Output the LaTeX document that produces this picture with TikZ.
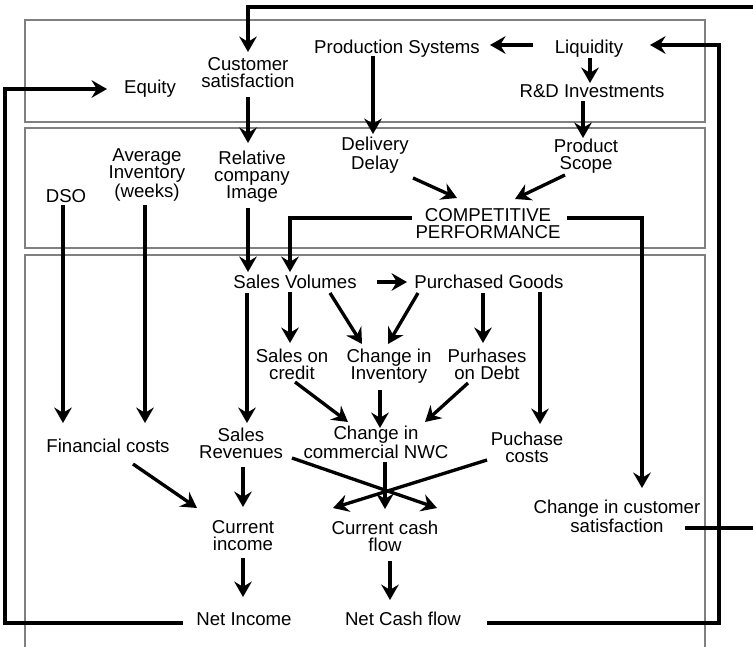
\documentclass[tikz,border=0pt]{standalone}
\usepackage{fontspec}
\setmainfont{Liberation Sans}
\usetikzlibrary{arrows.meta}
\begin{document}
\begin{tikzpicture}[x=0.02cm,y=-0.02cm,
  lbl/.style={inner sep=0pt,outer sep=0pt,align=center,font=\fontsize{10.6}{9.6}\selectfont},
  link/.style={line width=1.9pt,-{Stealth[length=8.8pt,width=10pt,inset=3pt]}},
  panel/.style={draw=black!50,line width=0.7pt}]
\useasboundingbox (0,0) rectangle (753,646);
\clip (0,0) rectangle (753,646);

% three panels
\draw[panel] (25,20) rectangle (705,122);
\draw[panel] (25,128) rectangle (705,248);
\draw[panel] (25,660) -- (25,255) -- (705,255) -- (705,660);

% top panel
\node[lbl,anchor=base] (eq)  at (150,93) {Equity};
\node[lbl] (cs) at (248,73) {Customer\\satisfaction};
\node[lbl,anchor=base] (ps)  at (397,53) {Production Systems};
\node[lbl,anchor=base] (liq) at (589,53) {Liquidity};
\node[lbl,anchor=base] (rd)  at (592,97) {R\&D Investments};

% middle panel
\node[lbl,anchor=base] (dso) at (66,202) {DSO};
\node[lbl] (ai)  at (147,175) {Average\\Inventory\\(weeks)};
\node[lbl] (rci) at (252,177) {Relative\\company\\Image};
\node[lbl] (dd)  at (375,155) {Delivery\\Delay};
\node[lbl] (psc) at (586,156) {Product\\Scope};
\node[lbl] (cp)  at (488,224) {COMPETITIVE\\PERFORMANCE};

% bottom panel
\node[lbl,anchor=base] (sv) at (295,288) {Sales Volumes};
\node[lbl,anchor=base] (pg) at (489,288) {Purchased Goods};
\node[lbl] (soc) at (292,364) {Sales on\\credit};
\node[lbl] (ci)  at (389,366) {Change in\\Inventory};
\node[lbl] (pod) at (487,364) {Purhases\\on Debt};
\node[lbl,anchor=base] (fc) at (108,452) {Financial costs};
\node[lbl] (sr)  at (241,443) {Sales\\Revenues};
\node[lbl] (nwc) at (376,442) {Change in\\commercial NWC};
\node[lbl] (pc)  at (527,447) {Puchase\\costs};
\node[lbl] (cin) at (243,536) {Current\\income};
\node[lbl] (ccf) at (385,536) {Current cash\\flow};
\node[lbl] (ccs) at (617,516) {Change in customer\\satisfaction};
\node[lbl,anchor=base] (ni)  at (244,625) {Net Income};
\node[lbl,anchor=base] (ncf) at (403,625) {Net Cash flow};

% links in the top and middle panels
\draw[link] ([shift={(0,24)}]cs.center) -- ([shift={(-4,-34)}]rci.center);
\draw[link] ([shift={(-24,3)}]ps.base) -- ([shift={(-2,-21)}]dd.center);
\draw[link] ([shift={(-56,-8)}]liq.base) -- ([shift={(93,-8)}]ps.base);
\draw[link] ([shift={(1,5)}]liq.base) -- ([shift={(-2,-14)}]rd.base);
\draw[link] ([shift={(-9,4)}]rd.base) -- ([shift={(-3,-18)}]psc.center);
\draw[link] ([shift={(38,23)}]dd.center) -- ([shift={(-31,-26)}]cp.center);
\draw[link] ([shift={(-21,19)}]psc.center) -- ([shift={(27,-25)}]cp.center);
\draw[link] ([shift={(-76,-6)}]cp.center) -| ([shift={(-5,-16)}]sv.base);
\draw[link] ([shift={(79,-6)}]cp.center) -| ([shift={(25,-28)}]ccs.center);
\draw[link] ([shift={(-4,31)}]rci.center) -- ([shift={(-47,-16)}]sv.base);
\draw[link] ([shift={(-3,3)}]dso.base) -- ([shift={(-45,-29)}]fc.base);
\draw[link] ([shift={(-2,30)}]ai.center) -- ([shift={(37,-29)}]fc.base);

% links in the bottom panel
\draw[link] ([shift={(82,-6)}]sv.base) -- ([shift={(-82,-6)}]pg.base);
\draw[link] ([shift={(-5,4)}]sv.base) -- ([shift={(-2,-21)}]soc.center);
\draw[link] ([shift={(35,5)}]sv.base) -- ([shift={(-27,-22)}]ci.center);
\draw[link] ([shift={(-71,5)}]pg.base) -- ([shift={(-1,-22)}]ci.center);
\draw[link] ([shift={(-6,5)}]pg.base) -- ([shift={(-4,-21)}]pod.center);
\draw[link] ([shift={(51,4)}]pg.base) -- ([shift={(13,-23)}]pc.center);
\draw[link] ([shift={(-48,5)}]sv.base) -- ([shift={(6,-20)}]sr.center);
\draw[link] ([shift={(3,18)}]soc.center) -- ([shift={(-28,-20)}]nwc.center);
\draw[link] ([shift={(-9,24)}]ci.center) -- ([shift={(4,-14)}]nwc.center);
\draw[link] ([shift={(-19,19)}]pod.center) -- ([shift={(49,-20)}]nwc.center);
\draw[link] ([shift={(25,12)}]fc.base) -- ([shift={(-46,-28)}]cin.center);
\draw[link] ([shift={(2,24)}]sr.center) -- ([shift={(0,-29)}]cin.center);
\draw[link] ([shift={(51,15)}]sr.center) -- ([shift={(52,-28)}]ccf.center);
\draw[link] ([shift={(9,20)}]nwc.center) -- ([shift={(0,-27)}]ccf.center);
\draw[link] ([shift={(-40,13)}]pc.center) -- ([shift={(-52,-28)}]ccf.center);
\draw[link] ([shift={(0,22)}]cin.center) -- ([shift={(-1,-28)}]ni.base);
\draw[link] ([shift={(5,25)}]ccf.center) -- ([shift={(-13,-25)}]ncf.base);

% feedback loops
\draw[link] ([shift={(-61,-2)}]ni.base) -- ++(-178,0) |- ([shift={(-43,-4)}]eq.base);
\draw[link] ([shift={(84,-2)}]ncf.base) -- ++(232,0) |- ([shift={(61,-8)}]liq.base);
\draw[link] ([shift={(68,12)}]ccs.center) -- ++(90,0) -- ++(0,-521) -| ([shift={(0,-21)}]cs.center);
\end{tikzpicture}
\end{document}
